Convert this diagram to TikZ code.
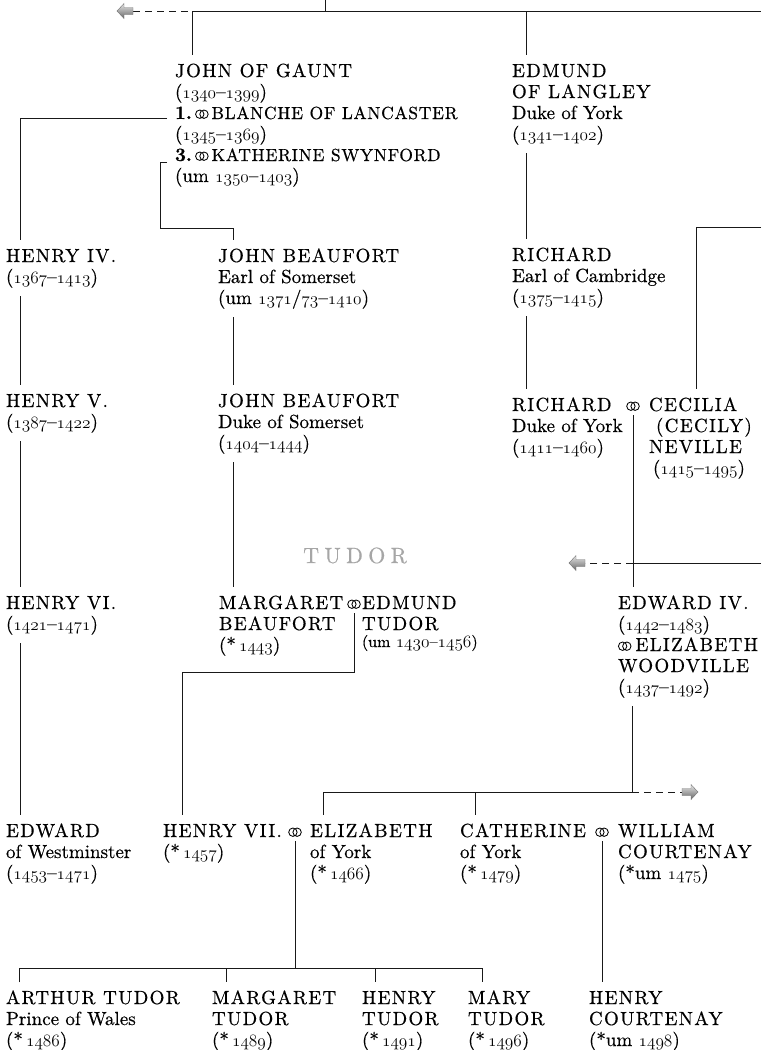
\documentclass[tikz,border=0pt]{standalone}
\usepackage{fontspec}
\setmainfont{lmroman10-regular.otf}[BoldFont=lmroman10-bold.otf, ItalicFont=lmroman10-italic.otf, FakeBold=0.5]
\usetikzlibrary{calc}
\newcommand\osf[1]{{\usefont{OML}{lmm}{m}{it}#1}}
\newcommand\nm[1]{{\addfontfeatures{LetterSpace=7}#1}}
\newcommand\nmsm[1]{{\fontsize{17.5}{21}\selectfont\addfontfeatures{LetterSpace=4}#1}}
\newcommand\marg{\tikz[x=1pt,y=1pt,baseline=0pt]{\draw[line width=0.85pt] (4.6,4.8) circle (4.2) (8.8,4.8) circle (4.2);}}
\newcommand\pp[1]{\begin{tabular}[t]{@{}l@{}}#1\end{tabular}}
\tikzset{
  person/.style={anchor=base west, inner sep=0pt, outer xsep=0pt, outer ysep=7pt,
    font=\fontsize{19}{21}\selectfont},
  marr/.style={anchor=base, inner sep=0pt, outer sep=4pt, font=\fontsize{19}{21}\selectfont},
  link/.style={draw=black!90, line width=0.75pt},
  dashlink/.style={link, dash pattern=on 7pt off 5pt},
  larrow/.pic={\shade[top color=black!10, bottom color=black!60, draw=black!55, line width=0.4pt]
    (0,-3.5) -- (-9,-3.5) -- (-9,-7.5) -- (-16,0) -- (-9,7.5) -- (-9,3.5) -- (0,3.5) -- cycle;},
  rarrow/.pic={\shade[top color=black!10, bottom color=black!60, draw=black!55, line width=0.4pt]
    (0,-3.5) -- (9,-3.5) -- (9,-7.5) -- (16,0) -- (9,7.5) -- (9,3.5) -- (0,3.5) -- cycle;}
}
\begin{document}
\begin{tikzpicture}[x=1pt,y=-1pt]
\useasboundingbox (0,0) rectangle (761,1050);

% ---------- persons ----------
\node[person] (gaunt) at (175,77) {\pp{\nm{JOHN OF GAUNT}\\(\osf{1340}–\osf{1399})\\\textbf{1.}\,\marg\hspace{3pt}\nmsm{BLANCHE OF LANCASTER}\\(\osf{1345}–\osf{1369})\\\textbf{3.}\,\marg\hspace{3pt}\nmsm{KATHERINE SWYNFORD}\\(um \osf{1350}–\osf{1403})}};
\node[person] (edmund) at (512,77) {\pp{\nm{EDMUND}\\\nm{OF LANGLEY}\\Duke of York\\(\osf{1341}–\osf{1402})}};

\node[person] (henry4) at (6,262) {\pp{\nm{HENRY IV.}\\(\osf{1367}–\osf{1413})}};
\node[person] (jb1) at (218,262) {\pp{\nm{JOHN BEAUFORT}\\Earl of Somerset\\(um \osf{1371}/\osf{73}–\osf{1410})}};
\node[person] (rich1) at (512,261) {\pp{\nm{RICHARD}\\Earl of Cambridge\\(\osf{1375}–\osf{1415})}};

\node[person] (henry5) at (6,407) {\pp{\nm{HENRY V.}\\(\osf{1387}–\osf{1422})}};
\node[person] (jb2) at (218,407) {\pp{\nm{JOHN BEAUFORT}\\Duke of Somerset\\(\osf{1404}–\osf{1444})}};
\node[person] (rich2) at (512,411) {\pp{\nm{RICHARD}\\Duke of York\\(\osf{1411}–\osf{1460})}};
\node[marr] (m1) at (633,411) {\marg};
\node[person] (cec) at (649,411) {\pp{\nm{CECILIA}\\\hspace{7pt}\nm{(CECILY)}\\\nm{NEVILLE}\\\hspace{4pt}(\osf{1415}–\osf{1495})}};

\node[anchor=base west, inner sep=0pt, font=\fontsize{22}{22}\selectfont, text=black!35] (tudor) at (303,563) {\addfontfeatures{LetterSpace=24}TUDOR};

\node[person] (henry6) at (6,609) {\pp{\nm{HENRY VI.}\\(\osf{1421}–\osf{1471})}};
\node[person] (marg) at (219,609) {\pp{\nm{MARGARET}\\\nm{BEAUFORT}\\(*\,\osf{1443})}};
\node[marr] (m2) at (354,609) {\marg};
\node[person] (edT) at (362,609) {\pp{\nm{EDMUND}\\\nm{TUDOR}\\[-4pt]{\fontsize{16}{17}\selectfont(um \osf{1430}–\osf{1456})}}};
\node[person] (edw4) at (618,609) {\pp{\nm{EDWARD IV.}\\(\osf{1442}–\osf{1483})\\\marg\hspace{4pt}\nm{ELIZABETH}\\\nm{WOODVILLE}\\(\osf{1437}–\osf{1492})}};

\node[person] (edwW) at (6,837) {\pp{\nm{EDWARD}\\of Westminster\\(\osf{1453}–\osf{1471})}};
\node[person] (h7) at (163,837) {\pp{\nm{HENRY VII.}\\(*\,\osf{1457})}};
\node[marr] (m3) at (295,837) {\marg};
\node[person] (eliz) at (310,837) {\pp{\nm{ELIZABETH}\\of York\\(*\,\osf{1466})}};
\node[person] (cath) at (460,837) {\pp{\nm{CATHERINE}\\of York\\(*\,\osf{1479})}};
\node[marr] (m4) at (602,837) {\marg};
\node[person] (will) at (618,837) {\pp{\nm{WILLIAM}\\\nm{COURTENAY}\\(*um \osf{1475})}};

\node[person] (arthur) at (6,1004) {\pp{\nm{ARTHUR TUDOR}\\Prince of Wales\\(*\,\osf{1486})}};
\node[person] (margT) at (212,1004) {\pp{\nm{MARGARET}\\\nm{TUDOR}\\(*\,\osf{1489})}};
\node[person] (henT) at (362,1004) {\pp{\nm{HENRY}\\\nm{TUDOR}\\(*\,\osf{1491})}};
\node[person] (mary) at (468,1004) {\pp{\nm{MARY}\\\nm{TUDOR}\\(*\,\osf{1496})}};
\node[person] (henC) at (589,1004) {\pp{\nm{HENRY}\\\nm{COURTENAY}\\(*um \osf{1498})}};

% ---------- column coordinates ----------
\coordinate (cA) at (20,0);
\coordinate (cG) at (192,0);
\coordinate (cJ) at (233,0);
\coordinate (cE) at (526,0);
\coordinate (cR) at (696,0);
\coordinate (cEl) at (323,0);
\coordinate (cCa) at (475,0);
\coordinate (cMT) at (226,0);
\coordinate (cHT) at (375,0);

% ---------- top bar ----------
\coordinate (top) at (325,0);
\coordinate (bar) at (325,11);
\coordinate (barR) at (761,11);
\coordinate (barL) at (133,11);
\draw[link] (top) -- (bar);
\draw[link] (bar -| cG) -- (barR);
\draw[dashlink] (barL) -- (bar -| cG);
\pic at (barL) {larrow};
\draw[link] (bar -| cG) -- (gaunt.north -| cG);
\draw[link] (bar -| cE) -- (edmund.north -| cE);

% ---------- marriages of John of Gaunt ----------
\coordinate (bl) at (167,118);
\draw[link] (bl) -| (henry4.north -| cA);
\coordinate (kl) at (167,162);
\coordinate (kx) at (160,228);
\draw[link] (kl) -| (kx) -| (jb1.north -| cJ);

% ---------- descents ----------
\draw[link] (edmund.south -| cE) -- (rich1.north -| cE);
\coordinate (rr) at (761,227);
\draw[link] (rr) -| (cec.north -| cR);
\draw[link] (henry4.south -| cA) -- (henry5.north -| cA);
\draw[link] (jb1.south -| cJ) -- (jb2.north -| cJ);
\draw[link] (rich1.south -| cE) -- (rich2.north -| cE);
\draw[link] (henry5.south -| cA) -- (henry6.north -| cA);
\draw[link] (jb2.south -| cJ) -- (marg.north -| cJ);
\draw[link] (m1.south) -- (m1.south |- edw4.north);

\coordinate (l2R) at (761,563);
\coordinate (l2L) at (585,563);
\draw[link] (l2R) -- (l2R -| m1);
\draw[dashlink] (l2R -| m1) -- (l2L);
\pic at (l2L) {larrow};

\draw[link] (henry6.south -| cA) -- (edwW.north -| cA);
\coordinate (k2) at (182,672);
\draw[link] (m2.south) |- (k2) -- (h7.north -| k2);

\coordinate (k3) at (632,792);
\coordinate (k3r) at (682,792);
\draw[link] (edw4.south -| k3) -- (k3) -- (k3 -| cEl) -- (eliz.north -| cEl);
\draw[link] (k3 -| cCa) -- (cath.north -| cCa);
\draw[dashlink] (k3) -- (k3r);
\pic at (k3r) {rarrow};

\coordinate (k4) at (294,968);
\coordinate (k4L) at (19,968);
\coordinate (k4R) at (482,968);
\draw[link] (m3.south) -- (m3.south |- k4);
\draw[link] (arthur.north -| k4L) -- (k4L) -- (k4R) -- (mary.north -| k4R);
\draw[link] (k4 -| cMT) -- (margT.north -| cMT);
\draw[link] (k4 -| cHT) -- (henT.north -| cHT);
\draw[link] (m4.south) -- (m4.south |- henC.north);
\end{tikzpicture}
\end{document}
